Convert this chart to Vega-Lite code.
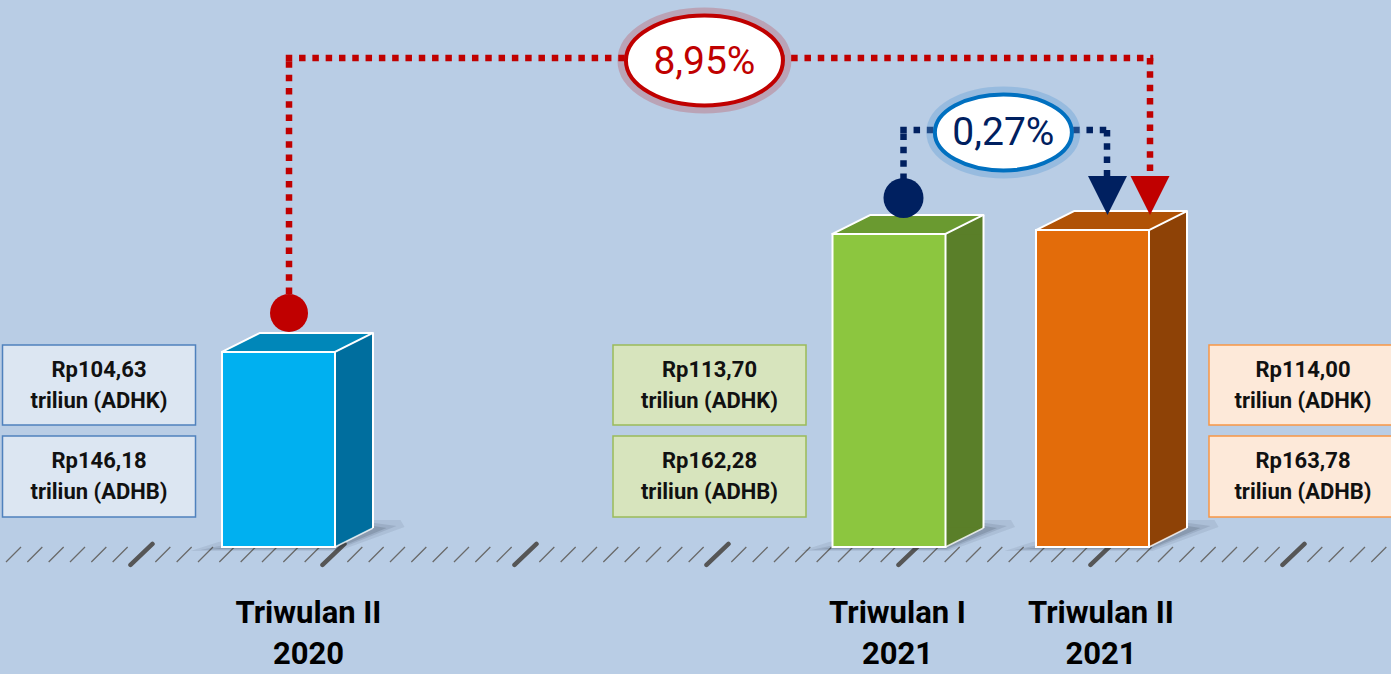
{
  "$schema": "https://vega.github.io/schema/vega-lite/v6.json",
  "width": 1391,
  "height": 674,
  "padding": 0,
  "autosize": {"type": "none"},
  "background": "#B9CDE5",
  "config": {
    "view": {"stroke": null},
    "axis": {"disable": true},
    "legend": {"disable": true},
    "font": "Roboto",
    "locale": {"number": {"decimal": ",", "thousands": ".", "grouping": [3], "currency": ["Rp", ""]}}
  },
  "datasets": {
    "pdrb": [
      {"periode": "Triwulan II 2020", "label": "Triwulan II\n2020", "q": 0, "adhk": 104.63, "adhb": 146.18},
      {"periode": "Triwulan I 2021", "label": "Triwulan I\n2021", "q": 3, "adhk": 113.70, "adhb": 162.28},
      {"periode": "Triwulan II 2021", "label": "Triwulan II\n2021", "q": 4, "adhk": 114.00, "adhb": 163.78}
    ],
    "pertumbuhan": [
      {"pembanding": "y-on-y", "q_awal": 0, "q_akhir": 4, "v_awal": 104.63, "v_akhir": 114.00, "pertumbuhan": 0.0895},
      {"pembanding": "q-to-q", "q_awal": 3, "q_akhir": 4, "v_awal": 113.70, "v_akhir": 114.00, "pertumbuhan": 0.0027}
    ],
    "dasar": [{"alas": "tanah"}]
  },
  "resolve": {"scale": {"color": "independent"}},
  "layer": [
    {
      "data": {"name": "dasar"},
      "mark": {"type": "point", "size": 4, "filled": false, "opacity": 1, "stroke": "#6a6a6a", "strokeWidth": 1.3,
        "shape": "M6,7.5l15,-15m6.333,15l15,-15m6.333,15l15,-15m6.333,15l15,-15m6.333,15l15,-15m6.333,15l15,-15m6.333,15l15,-15m6.333,15l15,-15m6.333,15l15,-15m6.333,15l15,-15m6.333,15l15,-15m6.333,15l15,-15m6.333,15l15,-15m6.333,15l15,-15m6.333,15l15,-15m6.333,15l15,-15m6.333,15l15,-15m6.333,15l15,-15m6.333,15l15,-15m6.333,15l15,-15m6.333,15l15,-15m6.333,15l15,-15m6.333,15l15,-15m6.333,15l15,-15m6.333,15l15,-15m6.333,15l15,-15m6.333,15l15,-15m6.333,15l15,-15m6.333,15l15,-15m6.333,15l15,-15m6.333,15l15,-15m6.333,15l15,-15m6.333,15l15,-15m6.333,15l15,-15m6.333,15l15,-15m6.333,15l15,-15m6.333,15l15,-15m6.333,15l15,-15m6.333,15l15,-15m6.333,15l15,-15m6.333,15l15,-15m6.333,15l15,-15m6.333,15l15,-15m6.333,15l15,-15m6.333,15l15,-15m6.333,15l15,-15m6.333,15l15,-15m6.333,15l15,-15m6.333,15l15,-15m6.333,15l15,-15m6.333,15l15,-15m6.333,15l15,-15m6.333,15l15,-15m6.333,15l15,-15m6.333,15l15,-15m6.333,15l15,-15m6.333,15l15,-15m6.333,15l15,-15m6.333,15l15,-15m6.333,15l15,-15m6.333,15l15,-15m6.333,15l15,-15m6.333,15l15,-15m6.333,15l15,-15m6.333,15l15,-15m6.333,15l15,-15m6.333,15l15,-15m6.333,15l15,-15m6.333,15l15,-15m6.333,15l15,-15m6.333,15l15,-15m6.333,15l15,-15m6.333,15l15,-15m6.333,15l15,-15m6.333,15l15,-15m6.333,15l15,-15m6.333,15"},
      "encoding": {
        "x": {"datum": -1.3686, "type": "quantitative", "scale": {"domain": [-1.3686, 5.4668], "zero": false, "nice": false}},
        "y": {"datum": 89.065, "type": "quantitative", "scale": {"domain": [79.88, 131.68], "zero": false, "nice": false}}
      }
    },
    {
      "data": {"name": "dasar"},
      "mark": {"type": "point", "size": 4, "filled": false, "opacity": 1, "stroke": "#565656", "strokeWidth": 4.5, "strokeCap": "round",
        "shape": "M130.5,10.5l22,-21m170,21l22,-21m170,21l22,-21m170,21l22,-21m170,21l22,-21m170,21l22,-21m170,21l22,-21"},
      "encoding": {
        "x": {"datum": -1.3686, "type": "quantitative"},
        "y": {"datum": 89.065, "type": "quantitative"}
      }
    },
    {
      "data": {"name": "pdrb"},
      "mark": {"type": "point", "size": 4, "filled": true, "opacity": 0.08, "color": "#14202e", "strokeWidth": 0,
        "shape": "M-88,4L60,4L126,-20L122,-27L92,-27L-60,-5Z"},
      "encoding": {"x": {"field": "q", "type": "quantitative"}, "y": {"datum": 89.64}}
    },
    {
      "data": {"name": "pdrb"},
      "mark": {"type": "point", "size": 4, "filled": true, "opacity": 0.1, "color": "#14202e", "strokeWidth": 0,
        "shape": "M-78,3L58,3L118,-21L96,-24L-50,-3Z"},
      "encoding": {"x": {"field": "q", "type": "quantitative"}, "y": {"datum": 89.64}}
    },
    {
      "data": {"name": "pdrb"},
      "mark": {"type": "point", "size": 4, "filled": true, "opacity": 0.14, "color": "#14202e", "strokeWidth": 0,
        "shape": "M-68,2L57,2L108,-19L95,-21L-40,-1Z"},
      "encoding": {"x": {"field": "q", "type": "quantitative"}, "y": {"datum": 89.64}}
    },
    {
      "data": {"name": "pdrb"},
      "mark": {"type": "rect", "xOffset": 56.5, "x2Offset": 94.5, "y2Offset": -19},
      "encoding": {
        "x": {"field": "q", "type": "quantitative"}, "x2": {"field": "q"},
        "y": {"field": "adhk", "type": "quantitative"}, "y2": {"datum": 89.64},
        "color": {"field": "periode", "type": "nominal", "legend": null,
          "scale": {"domain": ["Triwulan II 2020", "Triwulan I 2021", "Triwulan II 2021"], "range": ["#006E9E", "#5A7F29", "#8E4206"]}}
      }
    },
    {
      "data": {"name": "pdrb"},
      "mark": {"type": "point", "size": 4, "filled": true, "opacity": 1, "strokeWidth": 0, "shape": "M56.5,0.5L94.5,-19L94.5,0.5Z"},
      "encoding": {
        "x": {"field": "q", "type": "quantitative"},
        "y": {"field": "adhk", "type": "quantitative"},
        "color": {"field": "periode", "type": "nominal", "legend": null,
          "scale": {"domain": ["Triwulan II 2020", "Triwulan I 2021", "Triwulan II 2021"], "range": ["#006E9E", "#5A7F29", "#8E4206"]}}
      }
    },
    {
      "data": {"name": "pdrb"},
      "mark": {"type": "point", "size": 4, "filled": true, "opacity": 1, "strokeWidth": 0, "shape": "M56.5,-19.5L56.5,0L94.5,-19L94.5,-19.5Z"},
      "encoding": {
        "x": {"field": "q", "type": "quantitative"},
        "y": {"datum": 89.64},
        "color": {"field": "periode", "type": "nominal", "legend": null,
          "scale": {"domain": ["Triwulan II 2020", "Triwulan I 2021", "Triwulan II 2021"], "range": ["#006E9E", "#5A7F29", "#8E4206"]}}
      }
    },
    {
      "data": {"name": "pdrb"},
      "mark": {"type": "point", "size": 4, "filled": true, "opacity": 1, "stroke": "#ffffff", "strokeWidth": 2, "strokeJoin": "round",
        "shape": "M-56.5,0L56.5,0L94.5,-19L-18.5,-19Z"},
      "encoding": {
        "x": {"field": "q", "type": "quantitative"},
        "y": {"field": "adhk", "type": "quantitative"},
        "color": {"field": "periode", "type": "nominal", "legend": null,
          "scale": {"domain": ["Triwulan II 2020", "Triwulan I 2021", "Triwulan II 2021"], "range": ["#0087B9", "#6A9A30", "#B05206"]}}
      }
    },
    {
      "data": {"name": "pdrb"},
      "mark": {"type": "rect", "xOffset": -56.5, "x2Offset": 56.5, "stroke": "#ffffff", "strokeWidth": 2},
      "encoding": {
        "x": {"field": "q", "type": "quantitative"}, "x2": {"field": "q"},
        "y": {"field": "adhk", "type": "quantitative"}, "y2": {"datum": 89.64},
        "color": {"field": "periode", "type": "nominal", "legend": null,
          "scale": {"domain": ["Triwulan II 2020", "Triwulan I 2021", "Triwulan II 2021"], "range": ["#00B0F0", "#8CC63F", "#E36C0A"]}}
      }
    },
    {
      "data": {"name": "pdrb"},
      "mark": {"type": "rule", "color": "#ffffff", "strokeWidth": 2, "xOffset": 94.5, "yOffset": -19, "y2Offset": -19},
      "encoding": {
        "x": {"field": "q", "type": "quantitative"},
        "y": {"field": "adhk", "type": "quantitative"}, "y2": {"datum": 89.64}
      }
    },
    {
      "data": {"name": "pdrb"},
      "mark": {"type": "point", "size": 4, "filled": false, "opacity": 0.8, "stroke": "#ffffff", "strokeWidth": 1.5, "shape": "M56.5,0L94.5,-19"},
      "encoding": {"x": {"field": "q", "type": "quantitative"}, "y": {"datum": 89.64}}
    },
    {
      "data": {"name": "pdrb"},
      "transform": [{"filter": {"field": "periode", "oneOf": ["Triwulan II 2020", "Triwulan I 2021"]}}],
      "layer": [
        {
          "mark": {"type": "rect", "xOffset": -276, "x2Offset": -83, "strokeWidth": 1.5},
          "encoding": {
            "x": {"field": "q", "type": "quantitative"}, "x2": {"field": "q"},
            "y": {"datum": 105.17}, "y2": {"datum": 99.02},
            "fill": {"field": "periode", "type": "nominal", "legend": null, "scale": {"domain": ["Triwulan II 2020", "Triwulan I 2021", "Triwulan II 2021"], "range": ["#DCE6F2", "#D7E4BD", "#FDE9D9"]}},
            "stroke": {"field": "periode", "type": "nominal", "legend": null, "scale": {"domain": ["Triwulan II 2020", "Triwulan I 2021", "Triwulan II 2021"], "range": ["#4F81BD", "#9BBB59", "#F79646"]}}
          }
        },
        {
          "mark": {"type": "rect", "xOffset": -276, "x2Offset": -83, "strokeWidth": 1.5},
          "encoding": {
            "x": {"field": "q", "type": "quantitative"}, "x2": {"field": "q"},
            "y": {"datum": 98.17}, "y2": {"datum": 91.95},
            "fill": {"field": "periode", "type": "nominal", "legend": null, "scale": {"domain": ["Triwulan II 2020", "Triwulan I 2021", "Triwulan II 2021"], "range": ["#DCE6F2", "#D7E4BD", "#FDE9D9"]}},
            "stroke": {"field": "periode", "type": "nominal", "legend": null, "scale": {"domain": ["Triwulan II 2020", "Triwulan I 2021", "Triwulan II 2021"], "range": ["#4F81BD", "#9BBB59", "#F79646"]}}
          }
        },
        {
          "mark": {"type": "text", "xOffset": -179.5, "dy": -15, "fontSize": 22, "fontWeight": "bold", "color": "#111111", "baseline": "middle"},
          "encoding": {"x": {"field": "q", "type": "quantitative"}, "y": {"datum": 102.09}, "text": {"field": "adhk", "type": "quantitative", "format": "$.2f"}}
        },
        {
          "mark": {"type": "text", "xOffset": -179.5, "dy": 16, "fontSize": 22, "fontWeight": "bold", "color": "#111111", "baseline": "middle", "text": "triliun (ADHK)"},
          "encoding": {"x": {"field": "q", "type": "quantitative"}, "y": {"datum": 102.09}}
        },
        {
          "mark": {"type": "text", "xOffset": -179.5, "dy": -15, "fontSize": 22, "fontWeight": "bold", "color": "#111111", "baseline": "middle"},
          "encoding": {"x": {"field": "q", "type": "quantitative"}, "y": {"datum": 95.06}, "text": {"field": "adhb", "type": "quantitative", "format": "$.2f"}}
        },
        {
          "mark": {"type": "text", "xOffset": -179.5, "dy": 16, "fontSize": 22, "fontWeight": "bold", "color": "#111111", "baseline": "middle", "text": "triliun (ADHB)"},
          "encoding": {"x": {"field": "q", "type": "quantitative"}, "y": {"datum": 95.06}}
        }
      ]
    },
    {
      "data": {"name": "pdrb"},
      "transform": [{"filter": {"field": "periode", "equal": "Triwulan II 2021"}}],
      "layer": [
        {
          "mark": {"type": "rect", "xOffset": 116.5, "x2Offset": 305, "strokeWidth": 1.5},
          "encoding": {
            "x": {"field": "q", "type": "quantitative"}, "x2": {"field": "q"},
            "y": {"datum": 105.17}, "y2": {"datum": 99.02},
            "fill": {"field": "periode", "type": "nominal", "legend": null, "scale": {"domain": ["Triwulan II 2020", "Triwulan I 2021", "Triwulan II 2021"], "range": ["#DCE6F2", "#D7E4BD", "#FDE9D9"]}},
            "stroke": {"field": "periode", "type": "nominal", "legend": null, "scale": {"domain": ["Triwulan II 2020", "Triwulan I 2021", "Triwulan II 2021"], "range": ["#4F81BD", "#9BBB59", "#F79646"]}}
          }
        },
        {
          "mark": {"type": "rect", "xOffset": 116.5, "x2Offset": 305, "strokeWidth": 1.5},
          "encoding": {
            "x": {"field": "q", "type": "quantitative"}, "x2": {"field": "q"},
            "y": {"datum": 98.17}, "y2": {"datum": 91.95},
            "fill": {"field": "periode", "type": "nominal", "legend": null, "scale": {"domain": ["Triwulan II 2020", "Triwulan I 2021", "Triwulan II 2021"], "range": ["#DCE6F2", "#D7E4BD", "#FDE9D9"]}},
            "stroke": {"field": "periode", "type": "nominal", "legend": null, "scale": {"domain": ["Triwulan II 2020", "Triwulan I 2021", "Triwulan II 2021"], "range": ["#4F81BD", "#9BBB59", "#F79646"]}}
          }
        },
        {
          "mark": {"type": "text", "xOffset": 210.5, "dy": -15, "fontSize": 22, "fontWeight": "bold", "color": "#111111", "baseline": "middle"},
          "encoding": {"x": {"field": "q", "type": "quantitative"}, "y": {"datum": 102.09}, "text": {"field": "adhk", "type": "quantitative", "format": "$.2f"}}
        },
        {
          "mark": {"type": "text", "xOffset": 210.5, "dy": 16, "fontSize": 22, "fontWeight": "bold", "color": "#111111", "baseline": "middle", "text": "triliun (ADHK)"},
          "encoding": {"x": {"field": "q", "type": "quantitative"}, "y": {"datum": 102.09}}
        },
        {
          "mark": {"type": "text", "xOffset": 210.5, "dy": -15, "fontSize": 22, "fontWeight": "bold", "color": "#111111", "baseline": "middle"},
          "encoding": {"x": {"field": "q", "type": "quantitative"}, "y": {"datum": 95.06}, "text": {"field": "adhb", "type": "quantitative", "format": "$.2f"}}
        },
        {
          "mark": {"type": "text", "xOffset": 210.5, "dy": 16, "fontSize": 22, "fontWeight": "bold", "color": "#111111", "baseline": "middle", "text": "triliun (ADHB)"},
          "encoding": {"x": {"field": "q", "type": "quantitative"}, "y": {"datum": 95.06}}
        }
      ]
    },
    {
      "data": {"name": "pdrb"},
      "transform": [{"filter": {"field": "periode", "equal": "Triwulan II 2020"}}],
      "mark": {"type": "text", "xOffset": 30, "fontSize": 31, "fontWeight": "bold", "color": "#000000", "baseline": "middle", "lineBreak": "\n", "lineHeight": 41},
      "encoding": {"x": {"field": "q", "type": "quantitative"}, "y": {"datum": 84.49}, "text": {"field": "label"}}
    },
    {
      "data": {"name": "pdrb"},
      "transform": [{"filter": {"field": "periode", "oneOf": ["Triwulan I 2021", "Triwulan II 2021"]}}],
      "mark": {"type": "text", "xOffset": 8.5, "fontSize": 31, "fontWeight": "bold", "color": "#000000", "baseline": "middle", "lineBreak": "\n", "lineHeight": 41},
      "encoding": {"x": {"field": "q", "type": "quantitative"}, "y": {"datum": 84.49}, "text": {"field": "label"}}
    },
    {
      "data": {"name": "pertumbuhan"},
      "transform": [{"filter": {"field": "pembanding", "equal": "y-on-y"}}],
      "layer": [
        {
          "mark": {"type": "rule", "color": "#C00000", "strokeWidth": 6.5, "strokeDash": [6.5, 6.8], "xOffset": 10.5, "yOffset": -58},
          "encoding": {"x": {"field": "q_awal", "type": "quantitative"}, "y": {"field": "v_awal", "type": "quantitative"}, "y2": {"datum": 127.22}}
        },
        {
          "mark": {"type": "rule", "color": "#C00000", "strokeWidth": 6.5, "strokeDash": [6.5, 6.8], "xOffset": 7.25, "x2Offset": 60.75},
          "encoding": {"x": {"field": "q_awal", "type": "quantitative"}, "x2": {"field": "q_akhir"}, "y": {"datum": 127.22}}
        },
        {
          "mark": {"type": "rule", "color": "#C00000", "strokeWidth": 6.5, "strokeDash": [6.5, 6.8], "xOffset": 57.5, "y2Offset": -52},
          "encoding": {"x": {"field": "q_akhir", "type": "quantitative"}, "y": {"datum": 127.22}, "y2": {"field": "v_akhir", "type": "quantitative"}}
        },
        {
          "mark": {"type": "point", "shape": "circle", "size": 1444, "filled": true, "opacity": 1, "color": "#C00000", "xOffset": 10.5, "yOffset": -39},
          "encoding": {"x": {"field": "q_awal", "type": "quantitative"}, "y": {"field": "v_awal", "type": "quantitative"}}
        },
        {
          "mark": {"type": "point", "shape": "M-19.5,-39L19.5,-39L0,0Z", "size": 4, "filled": true, "opacity": 1, "color": "#C00000", "strokeWidth": 0, "xOffset": 57.5, "yOffset": -15},
          "encoding": {"x": {"field": "q_akhir", "type": "quantitative"}, "y": {"field": "v_akhir", "type": "quantitative"}}
        },
        {
          "mark": {"type": "point", "shape": "M-82,0A82,48 0 1 0 82,0A82,48 0 1 0 -82,0Z", "size": 4, "filled": false, "opacity": 0.2, "stroke": "#C00000", "strokeWidth": 10},
          "encoding": {"x": {"datum": 2.093}, "y": {"datum": 127.03}}
        },
        {
          "mark": {"type": "point", "shape": "M-78.5,0A78.5,45 0 1 0 78.5,0A78.5,45 0 1 0 -78.5,0Z", "size": 4, "filled": true, "opacity": 1, "fill": "#ffffff", "stroke": "#C00000", "strokeWidth": 4},
          "encoding": {"x": {"datum": 2.093}, "y": {"datum": 127.03}}
        },
        {
          "mark": {"type": "text", "fontSize": 39, "color": "#C00000", "baseline": "middle", "dy": 1},
          "encoding": {"x": {"datum": 2.093}, "y": {"datum": 127.03}, "text": {"field": "pertumbuhan", "type": "quantitative", "format": ".2%"}}
        }
      ]
    },
    {
      "data": {"name": "pertumbuhan"},
      "transform": [{"filter": {"field": "pembanding", "equal": "q-to-q"}}],
      "layer": [
        {
          "mark": {"type": "rule", "color": "#002060", "strokeWidth": 6.5, "strokeDash": [6.5, 6.8], "xOffset": 14.5, "yOffset": -54},
          "encoding": {"x": {"field": "q_awal", "type": "quantitative"}, "y": {"field": "v_awal", "type": "quantitative"}, "y2": {"datum": 121.69}}
        },
        {
          "mark": {"type": "rule", "color": "#002060", "strokeWidth": 6.5, "strokeDash": [6.5, 6.8], "xOffset": 11.25, "x2Offset": 17.75},
          "encoding": {"x": {"field": "q_awal", "type": "quantitative"}, "x2": {"field": "q_akhir"}, "y": {"datum": 121.69}}
        },
        {
          "mark": {"type": "rule", "color": "#002060", "strokeWidth": 6.5, "strokeDash": [6.5, 6.8], "xOffset": 14.5, "y2Offset": -52},
          "encoding": {"x": {"field": "q_akhir", "type": "quantitative"}, "y": {"datum": 121.69}, "y2": {"field": "v_akhir", "type": "quantitative"}}
        },
        {
          "mark": {"type": "point", "shape": "circle", "size": 1600, "filled": true, "opacity": 1, "color": "#002060", "xOffset": 14.5, "yOffset": -36},
          "encoding": {"x": {"field": "q_awal", "type": "quantitative"}, "y": {"field": "v_awal", "type": "quantitative"}}
        },
        {
          "mark": {"type": "point", "shape": "M-19.5,-39L19.5,-39L0,0Z", "size": 4, "filled": true, "opacity": 1, "color": "#002060", "strokeWidth": 0, "xOffset": 15, "yOffset": -15},
          "encoding": {"x": {"field": "q_akhir", "type": "quantitative"}, "y": {"field": "v_akhir", "type": "quantitative"}}
        },
        {
          "mark": {"type": "point", "shape": "M-72,0A72,41 0 1 0 72,0A72,41 0 1 0 -72,0Z", "size": 4, "filled": false, "opacity": 0.35, "stroke": "#5B9BD5", "strokeWidth": 10},
          "encoding": {"x": {"datum": 3.562}, "y": {"datum": 121.50}}
        },
        {
          "mark": {"type": "point", "shape": "M-68.5,0A68.5,38 0 1 0 68.5,0A68.5,38 0 1 0 -68.5,0Z", "size": 4, "filled": true, "opacity": 1, "fill": "#ffffff", "stroke": "#0070C0", "strokeWidth": 4},
          "encoding": {"x": {"datum": 3.562}, "y": {"datum": 121.50}}
        },
        {
          "mark": {"type": "text", "fontSize": 39, "color": "#002060", "baseline": "middle", "dy": 1},
          "encoding": {"x": {"datum": 3.562}, "y": {"datum": 121.50}, "text": {"field": "pertumbuhan", "type": "quantitative", "format": ".2%"}}
        }
      ]
    }
  ]
}
